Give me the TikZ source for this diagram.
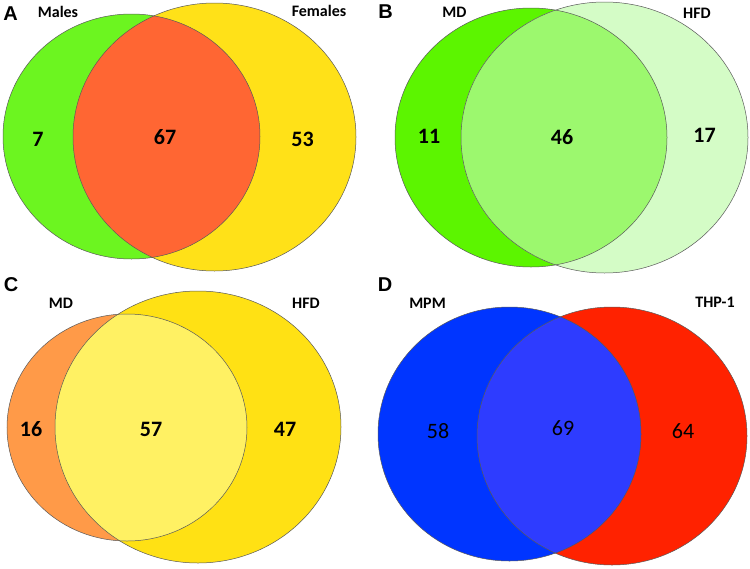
\documentclass[tikz,border=0pt]{standalone}
\usepackage{fontspec}
\setmainfont{Carlito}
\newfontfamily\letterfont{Liberation Sans}
\definecolor{gA}{HTML}{6CF520}
\definecolor{yA}{HTML}{FFE118}
\definecolor{rA}{HTML}{FF6633}
\definecolor{gB}{HTML}{5CF500}
\definecolor{lB}{HTML}{D4FCC6}
\definecolor{iB}{HTML}{9CF86E}
\definecolor{oC}{HTML}{FF9A48}
\definecolor{yC}{HTML}{FFE114}
\definecolor{iC}{HTML}{FFF163}
\definecolor{bD}{HTML}{0035FF}
\definecolor{rD}{HTML}{FF2200}
\definecolor{iD}{HTML}{2E3CFF}
\tikzset{
  outline/.style={draw=black!65, line width=0.5pt},
  panel/.style={font=\letterfont\bfseries\fontsize{20}{20}\selectfont, inner sep=0pt},
  setlabel/.style={font=\bfseries\fontsize{16}{16}\selectfont, inner sep=0pt},
  count/.style={font=\bfseries\fontsize{22}{22}\selectfont, inner sep=0pt},
  countr/.style={font=\fontsize{22}{22}\selectfont, inner sep=0pt}
}
\begin{document}
\begin{tikzpicture}[x=1pt,y=-1pt]
\fill[white] (0,0) rectangle (750,568);
\useasboundingbox (0,0) rectangle (750,568);
% Panel A
\fill[gA] (131.5,136.5) ellipse [x radius=128.5, y radius=122.5];
\fill[yA] (214.5,137) ellipse [x radius=141.5, y radius=134];
\begin{scope}
  \clip (131.5,136.5) ellipse [x radius=128.5, y radius=122.5];
  \fill[rA] (214.5,137) ellipse [x radius=141.5, y radius=134];
\end{scope}
\draw[outline] (131.5,136.5) ellipse [x radius=128.5, y radius=122.5];
\draw[outline] (214.5,137) ellipse [x radius=141.5, y radius=134];
\node[panel] (la) at (10.5,13.5) {A};
\node[setlabel] (ma) at (58,12) {Males};
\node[setlabel] (fa) at (319,11) {Females};
\node[count] (a1) at (38,139) {7};
\node[count] (a2) at (165,137.5) {67};
\node[count] (a3) at (302.5,139) {53};
% Panel B
\fill[gB] (531,137.5) ellipse [x radius=136, y radius=129.5];
\fill[lB] (604.5,137.5) ellipse [x radius=143.5, y radius=135.5];
\begin{scope}
  \clip (531,137.5) ellipse [x radius=136, y radius=129.5];
  \fill[iB] (604.5,137.5) ellipse [x radius=143.5, y radius=135.5];
\end{scope}
\draw[outline] (531,137.5) ellipse [x radius=136, y radius=129.5];
\draw[outline] (604.5,137.5) ellipse [x radius=143.5, y radius=135.5];
\node[panel] (lb) at (385.5,11.5) {B};
\node[setlabel] (mb) at (454.5,12) {MD};
\node[setlabel] (hb) at (697,13) {HFD};
\node[count] (b1) at (429,136.5) {11};
\node[count] (b2) at (562,137) {46};
\node[count] (b3) at (704.5,135) {17};
% Panel C
\fill[oC] (127,427.5) ellipse [x radius=120, y radius=113.5];
\fill[yC] (198,427) ellipse [x radius=143, y radius=136];
\begin{scope}
  \clip (127,427.5) ellipse [x radius=120, y radius=113.5];
  \fill[iC] (198,427) ellipse [x radius=143, y radius=136];
\end{scope}
\draw[outline] (127,427.5) ellipse [x radius=120, y radius=113.5];
\draw[outline] (198,427) ellipse [x radius=143, y radius=136];
\node[panel] (lc) at (11,285) {C};
\node[setlabel] (mc) at (61,303) {MD};
\node[setlabel] (hc) at (306,303) {HFD};
\node[count] (c1) at (31,429) {16};
\node[count] (c2) at (151,429) {57};
\node[count] (c3) at (285,429) {47};
% Panel D
\fill[rD] (612,436) ellipse [x radius=135, y radius=129];
\fill[bD] (509.5,434) ellipse [x radius=131.5, y radius=127];
\begin{scope}
  \clip (509.5,434) ellipse [x radius=131.5, y radius=127];
  \fill[iD] (612,436) ellipse [x radius=135, y radius=129];
\end{scope}
\draw[outline] (509.5,434) ellipse [x radius=131.5, y radius=127];
\draw[outline] (612,436) ellipse [x radius=135, y radius=129];
\node[panel] (ld) at (385,284.5) {D};
\node[setlabel] (md) at (427.5,303) {MPM};
\node[setlabel] (td) at (715,302) {THP-1};
\node[countr] (d1) at (438,431) {58};
\node[countr] (d2) at (563,428) {69};
\node[countr] (d3) at (683,431) {64};
\end{tikzpicture}
\end{document}
